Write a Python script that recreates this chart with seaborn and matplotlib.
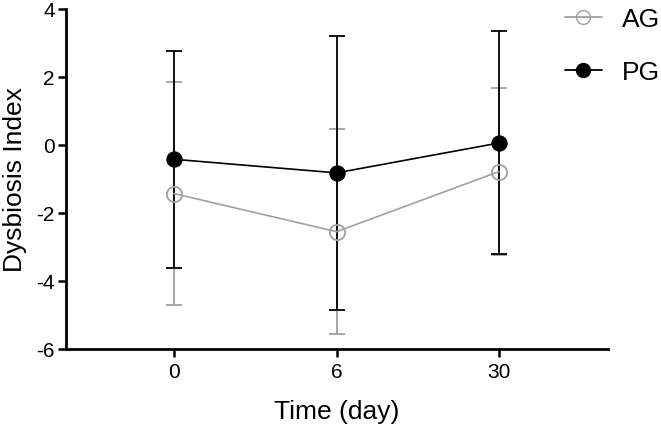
import numpy as np
import pandas as pd
import matplotlib
matplotlib.use("Agg")
import matplotlib.pyplot as plt
import seaborn as sns
from matplotlib.lines import Line2D

# values
days = ["0", "6", "30"]
ag_mean = [-1.43, -2.55, -0.78]
ag_sd = [3.27, 3.02, 2.45]
pg_mean = [-0.42, -0.82, 0.06]
pg_sd = [3.19, 4.03, 3.28]
yticks = [-6, -4, -2, 0, 2, 4]

df = pd.DataFrame({
    "pos": list(range(len(days))) * 2,
    "mean": ag_mean + pg_mean,
    "sd": ag_sd + pg_sd,
    "group": ["AG"] * 3 + ["PG"] * 3,
})

sns.set_style("ticks")
plt.rcParams["font.family"] = ["Liberation Sans", "DejaVu Sans"]
plt.rcParams["text.color"] = "black"
plt.rcParams["axes.labelcolor"] = "black"
plt.rcParams["xtick.color"] = "black"
plt.rcParams["ytick.color"] = "black"

fig = plt.figure(figsize=(6.61, 4.27), dpi=100)
ax = fig.add_axes([66 / 661, 1 - 350 / 427, (608 - 66) / 661, 340 / 427])

grey = "#a0a0a0"
colors = {"AG": grey, "PG": "black"}

# error bars first, then lines and markers from seaborn
for g, z in [("AG", 2), ("PG", 3)]:
    sub = df[df["group"] == g]
    ax.errorbar(sub["pos"], sub["mean"], yerr=sub["sd"], fmt="none",
                ecolor=colors[g], elinewidth=1.3, capsize=6, capthick=1.3, zorder=z)

sns.lineplot(data=df[df["group"] == "PG"], x="pos", y="mean", color="black",
             marker="o", markersize=11, markerfacecolor="black", markeredgecolor="black",
             linewidth=1.2, ax=ax, zorder=4, legend=False)
sns.lineplot(data=df[df["group"] == "AG"], x="pos", y="mean", color=grey,
             marker="o", markersize=11, markerfacecolor="white", markeredgecolor=grey,
             markeredgewidth=1.3, fillstyle="none", linewidth=1.2, ax=ax, zorder=5, legend=False)

ax.set_xlim(-0.665, 2.67)
ax.set_ylim(-6, 4)
ax.set_xticks(range(len(days)))
ax.set_xticklabels(days)
ax.set_yticks(yticks)
ax.set_yticklabels([str(t) for t in yticks])
ax.set_xlabel("Time (day)", fontsize=19, labelpad=13)
ax.set_ylabel("Dysbiosis Index", fontsize=19)
ax.yaxis.set_label_coords(-0.072, 0.5)
ax.tick_params(axis="both", labelsize=15, width=1.8, length=6, color="black")
ax.tick_params(axis="y", pad=2)
sns.despine(ax=ax)
for s in ["left", "bottom"]:
    ax.spines[s].set_linewidth(2)
    ax.spines[s].set_color("black")

handles = [
    Line2D([], [], color=grey, marker="o", markersize=10, markerfacecolor="white",
           markeredgecolor=grey, linewidth=1.3, fillstyle="none"),
    Line2D([], [], color="black", marker="o", markersize=10, linewidth=1.3),
]
fig.legend(handles, ["AG", "PG"], loc="upper left", bbox_to_anchor=(565 / 661, 1 - 8 / 427),
           frameon=False, fontsize=19, handlelength=1.4, handletextpad=0.75,
           labelspacing=1.1, borderpad=0, borderaxespad=0)

fig.savefig("out.png", dpi=100)
